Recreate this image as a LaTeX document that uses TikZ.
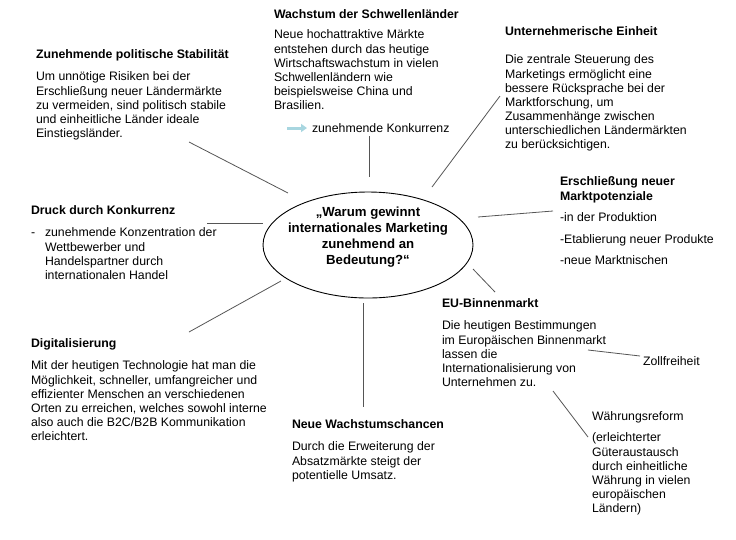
\documentclass[tikz,border=0pt]{standalone}
\usepackage{fontspec}
\setmainfont{Liberation Sans}
\usetikzlibrary{shapes.geometric,arrows.meta}
\definecolor{linegray}{RGB}{85,85,85}
\definecolor{arrowblue}{RGB}{168,214,224}
\tikzset{
  body/.style={anchor=north west,inner sep=0pt,outer sep=0pt,align=left,font=\fontsize{12.3}{14.1}\selectfont},
  head/.style={anchor=north west,inner sep=0pt,outer sep=0pt,align=left,font=\fontsize{12.3}{15}\selectfont\bfseries},
  conn/.style={draw=linegray,line width=0.8pt},
}
\begin{document}
\begin{tikzpicture}[x=1pt,y=-1pt]
\useasboundingbox (0,0) rectangle (736,539);
% centre
\node[ellipse,draw=black,line width=0.9pt,minimum width=210,minimum height=106,inner sep=0pt] (c) at (368,245) {};
\node[align=center,inner sep=0pt,font=\fontsize{13.2}{16}\selectfont\bfseries] (ct) at (368,237) {„Warum gewinnt\\internationales Marketing\\zunehmend an\\Bedeutung?“};
% Zunehmende politische Stabilitaet
\node[head] (t1) at (36,50) {Zunehmende politische Stabilität};
\node[body] (b1) at (36,72) {Um unnötige Risiken bei der\\Erschließung neuer Ländermärkte\\zu vermeiden, sind politisch stabile\\und einheitliche Länder ideale\\Einstiegsländer.};
% Wachstum
\node[head] (t2) at (274,10) {Wachstum der Schwellenländer};
\node[body] (b2) at (274,30) {Neue hochattraktive Märkte\\entstehen durch das heutige\\Wirtschaftswachstum in vielen\\Schwellenländern wie\\beispielsweise China und\\Brasilien.};
\node[body] (k2) at (312,124) {zunehmende Konkurrenz};
\coordinate (a2) at (287,128);
\coordinate (a2e) at (307,128);
\draw[arrowblue,line width=3pt,-{Triangle[length=6pt,width=8pt]}] (a2) -- (a2e);
% Unternehmerische Einheit
\node[head] (t3) at (505,27) {Unternehmerische Einheit};
\node[body] (b3) at (505,55) {Die zentrale Steuerung des\\Marketings ermöglicht eine\\bessere Rücksprache bei der\\Marktforschung, um\\Zusammenhänge zwischen\\unterschiedlichen Ländermärkten\\zu berücksichtigen.};
% Erschliessung
\node[head] (t4) at (560,177) {Erschließung neuer\\Marktpotenziale};
\node[body,font=\fontsize{12.3}{21.5}\selectfont] (b4) at (560,213) {-in der Produktion\\-Etablierung neuer Produkte\\-neue Marktnischen};
% Druck
\node[head] (t5) at (31,206) {Druck durch Konkurrenz};
\node[body] (d5) at (31,228) {\vphantom{Wz}-};
\node[body] (b5) at (45,228) {zunehmende Konzentration der\\Wettbewerber und\\Handelspartner durch\\internationalen Handel};
% Digitalisierung
\node[head] (t6) at (31,339) {Digitalisierung};
\node[body] (b6) at (31,361) {Mit der heutigen Technologie hat man die\\Möglichkeit, schneller, umfangreicher und\\effizienter Menschen an verschiedenen\\Orten zu erreichen, welches sowohl interne\\also auch die B2C/B2B Kommunikation\\erleichtert.};
% Neue Wachstumschancen
\node[head] (t7) at (292,420) {Neue Wachstumschancen};
\node[body] (b7) at (292,442) {Durch die Erweiterung der\\Absatzmärkte steigt der\\potentielle Umsatz.};
% EU
\node[head] (t8) at (442,299) {EU-Binnenmarkt};
\node[body] (b8) at (442,321) {Die heutigen Bestimmungen\\im Europäischen Binnenmarkt\\lassen die\\Internationalisierung von\\Unternehmen zu.};
\node[body] (z) at (643,357) {Zollfreiheit};
\node[body] (w) at (592,412) {Währungsreform};
\node[body] (wb) at (592,433) {(erleichterter\\Güteraustausch\\durch einheitliche\\Währung in vielen\\europäischen\\Ländern)};
% connector end points
\coordinate (p1a) at (189,142); \coordinate (p1b) at (288,193);
\coordinate (p2a) at (369,136); \coordinate (p2b) at (369,177);
\coordinate (p3a) at (500,96);  \coordinate (p3b) at (432,187);
\coordinate (p4a) at (553,211); \coordinate (p4b) at (478,217);
\coordinate (p5a) at (495,292); \coordinate (p5b) at (473,269);
\coordinate (p6a) at (207,223); \coordinate (p6b) at (263,223);
\coordinate (p7a) at (189,332); \coordinate (p7b) at (281,281);
\coordinate (p8a) at (363,303); \coordinate (p8b) at (363,407);
\coordinate (p9a) at (588,350); \coordinate (p9b) at (640,356);
\coordinate (p10a) at (553,391); \coordinate (p10b) at (588,437);
\draw[conn] (p1a) -- (p1b);
\draw[conn] (p2a) -- (p2b);
\draw[conn] (p3a) -- (p3b);
\draw[conn] (p4a) -- (p4b);
\draw[conn] (p5a) -- (p5b);
\draw[conn] (p6a) -- (p6b);
\draw[conn] (p7a) -- (p7b);
\draw[conn] (p8a) -- (p8b);
\draw[conn] (p9a) -- (p9b);
\draw[conn] (p10a) -- (p10b);
\end{tikzpicture}
\end{document}
